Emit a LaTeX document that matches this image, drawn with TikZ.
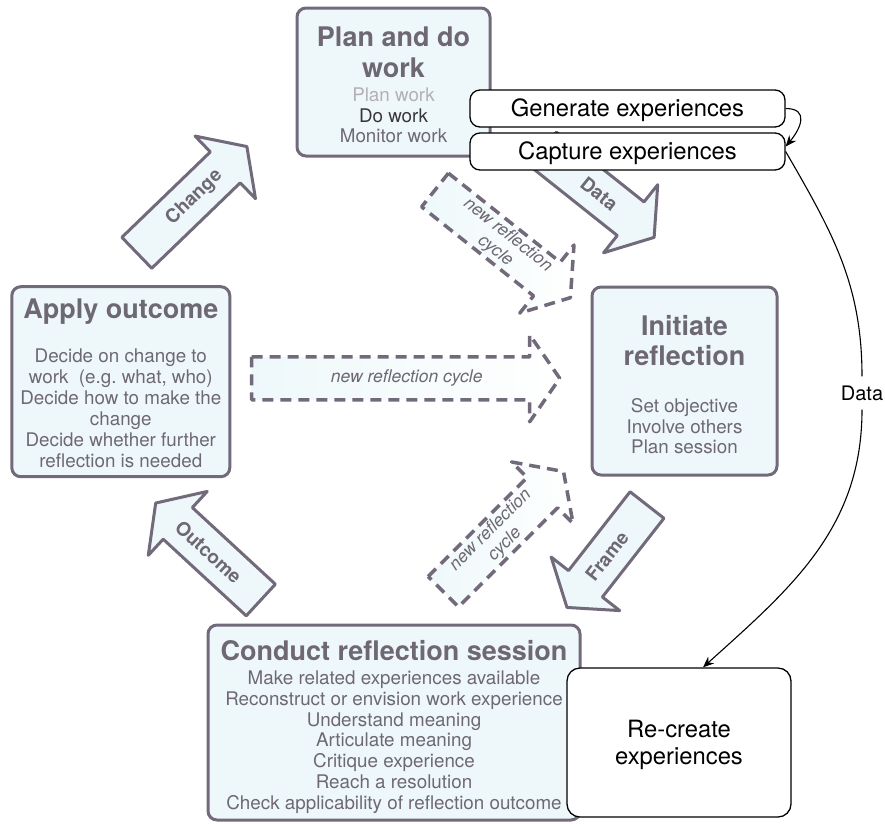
\documentclass[tikz,border=0pt]{standalone}
\usepackage{fontspec}
\setmainfont{TeX Gyre Heros}
\usetikzlibrary{arrows.meta}
\frenchspacing

\definecolor{stagefill}{HTML}{EEF8FA}
\definecolor{stageline}{HTML}{726A7A}
\definecolor{stageink}{HTML}{6E6874}
\definecolor{fadedink}{HTML}{B3AFB7}
\definecolor{darkink}{HTML}{38363C}

% Block arrow: #1 label name, #2 tail centre, #3 direction, #4 length,
% #5 outline style, #6 label position along the arrow, #7 label style, #8 label text
\newcommand\blockarrow[8]{%
  \begin{scope}[shift={(#2)}, rotate=#3]
    \path[#5] (0,-21.5) -- ({#4-30},-21.5) -- ({#4-30},-43.5) -- (#4,0)
      -- ({#4-30},43.5) -- ({#4-30},21.5) -- (0,21.5) -- cycle;
    \node[#7] (#1) at (#6,0) {#8};
  \end{scope}}

\begin{document}
\begin{tikzpicture}[x=1pt, y=-1pt,
  stage/.style={draw=stageline, line width=3pt, fill=stagefill, rounded corners=9pt, inner sep=0pt},
  plainbox/.style={draw=black, line width=1.3pt, fill=white, inner sep=0pt},
  title/.style={text=stageink, font=\fontsize{27}{32}\selectfont\bfseries, inner sep=0pt, anchor=base},
  body/.style={text=stageink, font=\fontsize{18.8}{21}\selectfont, inner sep=0pt, anchor=base},
  plaintext/.style={text=black, font=\fontsize{23.8}{27}\selectfont, inner sep=0pt, anchor=base},
  solidarrow/.style={draw=stageline, line width=3pt, line join=round, fill=stagefill},
  dasharrow/.style={draw=stageline, line width=3.5pt, line join=round, dash pattern=on 11pt off 7pt,
    left color=stagefill, right color=white},
  arrowtag/.style={text=stageink, font=\fontsize{19}{19}\selectfont\bfseries, inner sep=0pt},
  cycletag/.style={text=stageink, font=\fontsize{17.5}{20}\selectfont\itshape, align=center, inner sep=0pt},
  link/.style={draw=black, line width=1.1pt, -{Stealth[length=11pt, width=9pt]}}]

\useasboundingbox (0,0) rectangle (885,823);

% ---- block arrows of the cycle ----
\blockarrow{changetag}{136.8,252.8}{44}{153}{solidarrow}{80}{arrowtag, rotate=44}{Change}
\blockarrow{datatag}{543,149}{-38.5}{142}{solidarrow}{72}{arrowtag, rotate=-38.5}{Data}
\blockarrow{frametag}{647,505}{-128}{130}{solidarrow}{65}{arrowtag, rotate=52}{Frame}
\blockarrow{outcometag}{260.8,600}{137.3}{143}{solidarrow}{71}{arrowtag, rotate=-42.7}{Outcome}
\blockarrow{cycleupper}{435,190}{-38.5}{173}{dasharrow}{85}{cycletag, rotate=-38.5}{new reflection\\cycle}
\blockarrow{cyclemiddle}{251.7,378.3}{0}{308}{dasharrow}{155}{cycletag}{new reflection cycle}
\blockarrow{cyclelower}{443.3,591.7}{45}{170}{dasharrow}{77}{cycletag, rotate=45}{new reflection\\cycle}

% ---- stages ----
\node[stage, minimum width=193, minimum height=148] (plan) at (393.5,82) {};
\node[stage, minimum width=218, minimum height=190] (apply) at (120.8,381.7) {};
\node[stage, minimum width=185, minimum height=188] (initiate) at (684.5,381) {};
\node[stage, minimum width=372, minimum height=195] (conduct) at (394,722.5) {};

% ---- experience handling ----
\node[plainbox, rounded corners=10pt, minimum width=315, minimum height=37] (generate) at (627.5,108.5) {};
\node[plainbox, rounded corners=10pt, minimum width=315, minimum height=37] (capture) at (627.5,151.5) {};
\node[plainbox, rounded corners=13pt, minimum width=224, minimum height=149] (recreate) at (679,742.5) {};

% ---- stage texts ----
\node[title] (plantitle1) at (393.5,46) {Plan and do};
\node[title] (plantitle2) at (393.5,77) {work};
\node[body, text=fadedink] (planline1) at (393.5,101.5) {Plan work};
\node[body, text=darkink] (planline2) at (393.5,122) {Do work};
\node[body] (planline3) at (393.5,142.5) {Monitor work};

\node[title] (applytitle) at (120.8,318) {Apply outcome};
\foreach \txt [count=\k from 0] in {Decide on change to, {work~ (e.g. what, who)}, Decide how to make the,
    change, Decide whether further, reflection is needed}
  \node[body] (applyline\k) at (120.8, 362.5+21*\k) {\txt};

\node[title] (initiatetitle1) at (684.5,335) {Initiate};
\node[title] (initiatetitle2) at (684.5,365) {reflection};
\foreach \txt [count=\k from 0] in {Set objective, Involve others, Plan session}
  \node[body] (initiateline\k) at (684.5, 412.5+20.5*\k) {\txt};

\node[title] (conducttitle) at (394,660) {Conduct reflection session};
\foreach \txt [count=\k from 0] in {Make related experiences available, Reconstruct or envision work experience,
    Understand meaning, Articulate meaning, Critique experience, Reach a resolution,
    Check applicability of reflection outcome}
  \node[body] (conductline\k) at (394, 684.5+20.8*\k) {\txt};

\node[plaintext] (generatetext) at (627.5,116.5) {Generate experiences};
\node[plaintext] (capturetext) at (627.5,159.5) {Capture experiences};
\node[plaintext] (recreatetext1) at (679,737) {Re-create};
\node[plaintext] (recreatetext2) at (679,764) {experiences};

% ---- data flow ----
\node[font=\fontsize{20}{20}\selectfont, inner xsep=2pt, inner ysep=9pt] (datalabel) at (862,393) {Data};
\draw[link] (generate.east) to[out=0, in=50, looseness=1.6] ([yshift=5pt]capture.east);
\draw[line width=1.1pt] (capture.east) to[out=-60, in=90] (datalabel.north);
\draw[link] (datalabel.south) to[out=-90, in=42] ([xshift=24pt]recreate.north);

\end{tikzpicture}
\end{document}
